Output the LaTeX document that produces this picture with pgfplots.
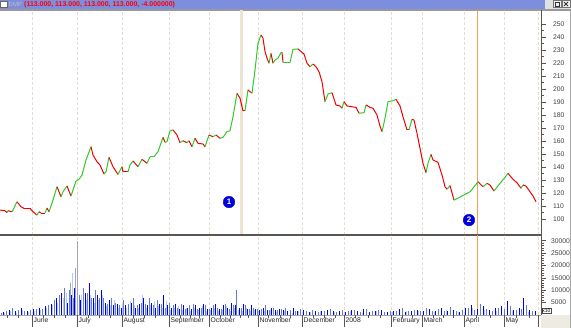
\documentclass[border=0pt]{standalone}
\usepackage{pgfplots}
\pgfplotsset{compat=1.18}
\usepackage{pgfplotstable}
\usepackage{fontspec}
\setmainfont{Liberation Sans}
\definecolor{upg}{RGB}{50,200,40}
\definecolor{dnr}{RGB}{240,0,0}
\definecolor{gridc}{RGB}{228,220,205}
\definecolor{gridd}{RGB}{170,170,170}
\definecolor{vb1}{RGB}{0,0,235}
\definecolor{vb2}{RGB}{95,125,225}
\definecolor{vb3}{RGB}{185,200,240}
\definecolor{vgray}{RGB}{165,165,185}
\definecolor{hdr}{RGB}{125,142,222}
\definecolor{axc}{RGB}{90,85,80}
\definecolor{mk}{RGB}{0,0,220}
\definecolor{orng}{RGB}{245,160,80}
\definecolor{beige}{RGB}{238,228,212}
\definecolor{panel}{RGB}{238,235,227}

\pgfplotstableread{
x y c
0 106.9 0
5 106.4 0
7 104.9 1
8 106.4 0
12 105.6 1
13 107.0 1
17 113.3 0
21 109.5 0
24 108.2 0
30 108.2 0
33 105.6 0
37 103.0 1
39 105.6 0
41 104.6 0
45 104.6 1
47 108.5 0
49 105.6 1
53 114.6 1
57 124.9 0
61 117.2 1
63 121.0 1
67 125.4 0
71 117.7 1
76 129.3 1
79 130.6 1
82 133.9 1
86 145.5 1
91 155.7 0
93 149.3 0
97 144.1 0
100 141.6 0
104 134.7 1
106 136.4 1
109 147.5 0
113 140.3 0
118 134.4 1
122 140.3 0
123 136.4 0
128 136.4 1
130 141.6 1
133 144.7 0
138 140.3 1
142 146.0 0
147 142.9 1
150 148.0 1
154 148.0 1
158 151.9 1
163 162.9 0
165 159.1 1
167 159.6 1
170 168.0 1
173 168.6 0
177 164.7 0
180 158.8 1
183 160.3 0
187 158.8 1
189 160.3 0
192 155.7 1
195 162.2 0
198 158.3 0
203 157.8 0
205 155.7 1
209 164.7 0
213 163.4 1
216 164.7 0
220 162.2 1
223 162.9 1
227 167.3 1
230 168.0 1
233 178.8 1
237 196.8 0
240 193.0 0
243 183.4 0
245 183.4 1
248 199.4 0
250 198.1 0
252 197.0 1
255 214.8 1
258 235.4 1
261 241.8 0
263 239.2 0
265 229.0 0
267 224.0 0
269 220.0 1
271 227.6 0
273 220.0 1
275 222.5 1
278 223.8 1
281 228.3 1
282 228.3 0
283 220.6 1
290 220.6 1
293 230.7 1
298 231.0 0
300 229.7 0
304 227.1 0
307 220.0 0
310 217.3 1
313 219.4 0
316 217.3 0
319 213.5 0
322 205.8 0
325 190.4 1
328 196.3 1
332 197.3 0
336 187.8 0
340 187.1 0
342 185.3 1
344 190.4 0
347 187.1 0
356 186.0 0
359 181.5 1
364 181.9 1
366 187.8 0
370 186.0 0
373 185.3 0
377 180.1 0
380 171.6 0
382 167.3 1
385 177.6 1
388 190.4 1
393 191.1 1
396 192.2 0
400 187.1 0
403 178.8 0
407 168.6 0
409 168.6 1
412 176.8 0
414 176.3 0
417 166.0 0
420 154.5 0
423 142.9 0
426 135.7 1
428 142.9 1
431 149.8 0
433 145.5 0
438 143.6 0
442 133.9 0
445 124.9 0
447 122.9 1
450 125.7 0
454 114.6 1
462 117.7 1
470 121.0 1
473 123.7 1
478 128.7 0
483 124.9 1
487 127.5 0
490 126.2 0
494 121.6 1
500 127.5 1
505 132.1 1
508 135.2 0
513 130.6 0
517 127.9 0
521 123.7 1
523 126.2 0
526 125.4 0
530 121.0 0
533 117.7 0
536 113.3 0
}\price

\begin{document}
\begin{tikzpicture}
\fill[white] (0bp,0bp) rectangle (571bp,328bp);
\fill[panel] (541bp,0bp) rectangle (571bp,13bp);
% header strip
\fill[hdr] (0bp,319bp) rectangle (545bp,328bp);
\fill[black!12] (545bp,319bp) rectangle (571bp,328bp);
\fill[black!40] (0bp,317.3bp) rectangle (571bp,319bp);
\draw[black!60, fill=white] (0.5bp,320.5bp) rectangle (7bp,326.5bp);
\node[anchor=west, inner sep=0, font=\fontsize{6}{6}\selectfont, text=black!25] at (8.5bp,323.5bp) {DMP};
\node[anchor=west, inner sep=0, font=\bfseries\fontsize{7}{7}\selectfont, text=red] at (24bp,323.5bp) {(113.000, 113.000, 113.000, 113.000, -4.000000)};
\draw[black!55, fill=black!5] (553bp,320.5bp) rectangle (561bp,327.5bp);
\draw[black!55, fill=black!5] (562bp,320.5bp) rectangle (570bp,327.5bp);
\draw[black!80] (555bp,322bp) rectangle (559bp,326bp);
\draw[black!80, line width=0.8] (564bp,322bp) -- (568bp,326bp) (564bp,326bp) -- (568bp,322bp);
\draw[black!35, line width=1] (570.5bp,0bp) -- (570.5bp,317.3bp);

% ---------------- price panel
\begin{axis}[
  at={(0bp,93bp)}, anchor=south west, scale only axis,
  width=541bp, height=225bp,
  xmin=0, xmax=541, ymin=87.7, ymax=261,
  axis line style={draw=none},
  xtick={32,77,122,169,209,258,302,391,464,504,538},
  xticklabels={}, major x tick style={draw=none},
  extra x ticks={344,422}, extra x tick labels={},
  extra x tick style={major x tick style={draw=none}, grid style={gridd, dash pattern=on 1bp off 1.5bp, line width=0.6bp}},
  xmajorgrids, major x grid style={gridc, dash pattern=on 2.5bp off 2.5bp, line width=0.7bp},
  ytick={100,110,...,250}, minor y tick num=1,
  ytick pos=right, yticklabel pos=right,
  tick align=outside, major tick length=5bp, minor tick length=3bp,
  y tick style={draw=axc, line width=0.6bp},
  yticklabel style={font=\fontsize{6.8}{8}\selectfont, text=black!75, xshift=3.5bp},
  /pgf/number format/assume math mode=true,
  point meta min=0, point meta max=1,
  colormap={ud}{color=(dnr) color=(upg)},
  clip=false,
]
\addplot[beige, line width=2.5bp, forget plot] coordinates {(241.5,87.7) (241.5,261)};
\addplot[orng, line width=0.8bp, forget plot] coordinates {(477,87.7) (477,261)};
\draw[axc, line width=1.8bp] (rel axis cs:0,0) -- (rel axis cs:1,0);
\draw[axc, line width=1bp] (rel axis cs:1,0) -- (rel axis cs:1,1);
\addplot[mesh, shader=flat corner, line width=1bp, point meta=\thisrow{c}] table[x=x, y=y] {\price};
\addplot[only marks, mark=*, mark size=5.8bp, mark options={fill=mk, draw=mk},
  nodes near coords={\textbf{1}},
  every node near coord/.style={anchor=center, text=white, font=\fontsize{8}{8}\selectfont}]
  coordinates {(229,113.1)};
\addplot[only marks, mark=*, mark size=5.8bp, mark options={fill=mk, draw=mk},
  nodes near coords={\textbf{2}},
  every node near coord/.style={anchor=center, text=white, font=\fontsize{8}{8}\selectfont}]
  coordinates {(469,99.2)};
\end{axis}

% ---------------- volume panel
\begin{axis}[
  at={(0bp,13bp)}, anchor=south west, scale only axis,
  width=541bp, height=80bp,
  xmin=0, xmax=541, ymin=0, ymax=32.3,
  axis line style={draw=none},
  xtick={32,77,122,169,209,258,302,344,391,422,464,504,538},
  xticklabels={}, major x tick style={draw=none},
  xmajorgrids, major x grid style={gridc, dash pattern=on 2.5bp off 2.5bp, line width=0.7bp},
  tick align=outside, major tick length=5bp, minor tick length=3bp,
  ytick={5,10,...,30}, yticklabels={5000,10000,15000,20000,25000,30000},
  minor y tick num=4,
  ytick pos=right, yticklabel pos=right,
  y tick style={draw=axc, line width=0.6bp},
  yticklabel style={font=\fontsize{6.8}{8}\selectfont, text=black!75, xshift=1.5bp},
  /pgf/number format/assume math mode=true,
  clip=false,
]
\addplot[orng, line width=0.8bp, forget plot] coordinates {(477,0) (477,32.3)};
\draw[axc, line width=1bp] (rel axis cs:1,0) -- (rel axis cs:1,1);
\draw[black!35, line width=1bp] (rel axis cs:0,0) -- (rel axis cs:1,0);
\addplot[ycomb, vb3, line width=1bp, mark=none] coordinates {
(4,0.8)(10,1.5)(16,1)(22,2.2)(28,1.2)(34,1.8)(40,2)(46,3)(52,4)(57,5)(63,7)(66,9)(72,17)(81,8)(86,6)(90,8)(94,5)(98,6)(102,8)(106,3.5)(110,4)(114,6)(118,3)(122,4)(126,3)(130,5.5)(134,4)(138,3)(142,8)(146,3)(150,4)(154,5.5)(158,3.5)(162,3)(166,5.5)(170,2)(174,3)(178,3.5)(182,2)(186,3)(190,1.5)(194,3)(198,2)(202,3.5)(206,1.5)(210,2)(214,3)(218,1.5)(222,2)(226,3.5)(230,1.5)(234,3)(238,2)(242,1.5)(246,3)(250,1.5)(254,2)(258,1.5)(264,1.5)(270,2)(276,1.2)(284,1.8)(292,1)(298,1.6)(310,1.2)(320,1.8)(334,1.2)(350,1.5)(362,1)(376,1.6)(392,1.2)(406,1.5)(418,1.8)(434,1.4)(446,2)(458,1.2)(472,2.8)(484,2)(496,1.5)(512,1.8)(528,1.2)};
\addplot[ycomb, vgray, line width=1bp, mark=none] coordinates {(77,30)(75,19)(70,13)};
\addplot[ycomb, vb2, line width=1bp, mark=none] coordinates {
(1,1)(6,1.5)(12,3)(18,2)(24,1.5)(30,2)(36,2.5)(42,2.5)(48,4)(54,6)(59,8)(64,11)(69,10)(73,7)(79,8)(83,11)(87,9)(91,7)(95,10)(99,7)(103,7)(107,4.5)(111,7)(115,5)(119,4)(123,6)(128,4.5)(133,7)(137,4)(141,5)(145,4.5)(149,7)(153,4)(157,6)(161,4.5)(165,3)(169,5)(173,4)(177,3)(181,4.5)(185,2.5)(189,4)(193,4.5)(197,2.5)(201,3)(205,4)(209,2.5)(213,4)(217,3)(221,2.5)(225,4.5)(229,2.5)(233,4)(236,10)(241,3)(245,4)(249,2.5)(253,3)(257,2.5)(261,2.5)(265,4)(269,2)(273,3)(277,2)(281,2.5)(285,3)(290,2)(295,1.5)(300,2.5)(306,1.5)(312,2)(318,1.2)(324,1.8)(330,2.5)(336,1.4)(342,2)(348,1.5)(354,2.2)(360,1.2)(366,2.5)(372,1.6)(378,2.2)(384,1.3)(390,1.8)(396,1.5)(402,2.8)(408,1.5)(414,2.2)(420,1.6)(426,3)(432,1.5)(438,2.5)(444,1.8)(450,3.2)(456,1.5)(462,2.2)(468,3)(474,2)(480,4.5)(486,2.5)(492,1.8)(498,3)(504,2.5)(510,3.5)(516,2)(521,2.5)(526,4)(532,1.5)};
\addplot[ycomb, vb1, line width=1bp, mark=none] coordinates {
(3,1.2)(9,2.0)(15,1.5)(21,2.8)(27,1.8)(33,2.5)(39,3)(45,3.5)(51,4.5)(56,7)(61,9)(67,5)(71,8)(74,11)(80,6)(85,9)(89,13)(93,7)(97,8)(101,10)(105,5)(109,6)(113,4)(117,4.5)(121,3)(125,4)(131,5)(135,3)(139,4.5)(143,7)(147,4)(151,5)(155,3)(159,4.5)(163,8)(167,4)(171,3)(175,4.5)(179,2.5)(183,4)(187,3)(191,2.5)(195,4)(199,3)(203,4.5)(207,2.5)(211,3)(215,4.5)(219,2.5)(223,4)(227,3)(231,5)(235,4)(239,3)(243,4.5)(247,2.5)(251,4)(255,2.5)(259,2)(263,3)(267,2)(271,3)(275,2)(279,2.5)(283,2)(287,1.5)(293,2.8)(297,1.5)(303,2)(309,1.2)(315,1.8)(321,1.5)(327,2.2)(333,1.5)(339,1.8)(345,1.2)(351,2)(357,1.5)(363,2.4)(369,1.3)(375,1.8)(381,2.0)(387,1.4)(393,1.6)(399,2.5)(405,1.2)(411,1.8)(417,2.0)(423,1.5)(429,2.6)(435,1.8)(441,3.0)(447,1.5)(453,2.2)(459,1.4)(465,2.8)(471,4.0)(477,2.5)(483,3.5)(489,2.0)(495,2.8)(501,3.5)(507,5.5)(513,2.0)(519,3.0)(523,7)(529,2.2)(535,1.8)};
\end{axis}

% ---------------- date axis
\begin{axis}[
  at={(0bp,13bp)}, anchor=south west, scale only axis,
  width=541bp, height=80bp,
  xmin=0, xmax=541, ymin=0, ymax=1,
  axis line style={draw=none},
  xtick={32,77,122,169,209,258,302,344,391,422,464,504,538},
  xticklabels={June,July,August,September,October,November,December,2008,February,March,April,May,},
  minor xtick={7,18,43,54,65,88,99,110,133,144,155,180,190,199,220,230,240,248,268,280,290,313,324,335,355,368,380,402,412,433,443,453,476,490,516,529},
  xtick pos=bottom,
  x tick style={draw=axc, line width=0.7bp},
  major tick length=12bp, minor tick length=2.5bp,
  tick align=outside,
  xticklabel style={anchor=north west, inner sep=0pt, xshift=1.5bp, font=\fontsize{6.8}{8}\selectfont, text=black!85},
  xticklabel shift={-9.5bp},
  ytick=\empty,
]
\addplot[draw=none, forget plot] coordinates {(0,0)};
\end{axis}
\node[draw=black!70, fill=white, inner sep=0.6bp, anchor=north west, font=\fontsize{5}{5}\selectfont] at (541.5bp,20bp) {x10};
\pgfresetboundingbox
\useasboundingbox (0bp,0bp) rectangle (571bp,328bp);
\end{tikzpicture}
\end{document}
